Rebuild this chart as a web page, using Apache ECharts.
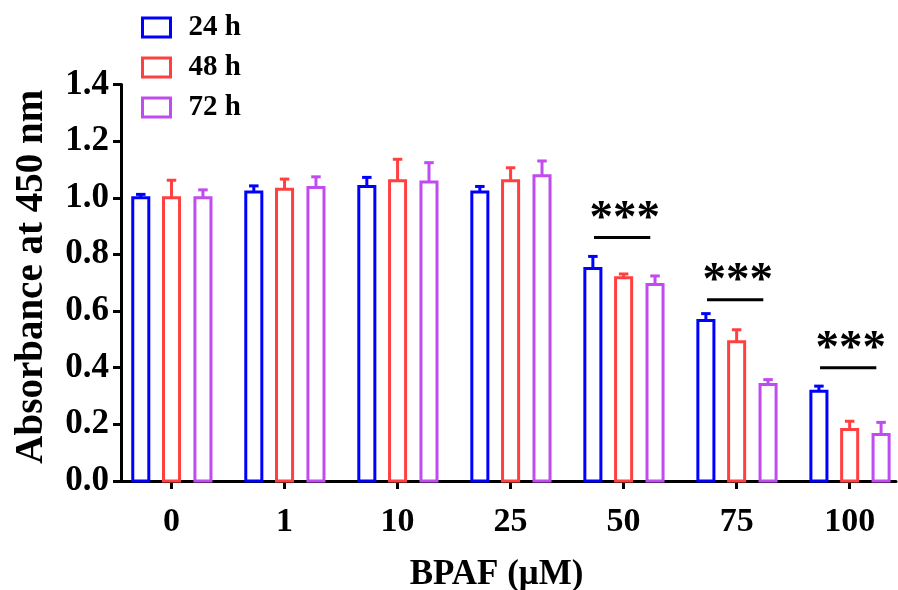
<!DOCTYPE html>
<html>
<head>
<meta charset="utf-8">
<script src="https://cdn.jsdelivr.net/npm/echarts@6/dist/echarts.min.js"></script>
<style>html,body{margin:0;padding:0;background:#fff;}#c{width:898px;height:590px;}</style>
</head>
<body>
<div id="c"></div>
<script>
// ---- data ----
const categories = ['0', '1', '10', '25', '50', '75', '100'];
const seriesNames = ['24 h', '48 h', '72 h'];
const mean24 = [1.00, 1.02, 1.04, 1.02, 0.750, 0.567, 0.317];
const sd24   = [0.012, 0.022, 0.032, 0.020, 0.043, 0.024, 0.018];
const mean48 = [1.00, 1.03, 1.06, 1.06, 0.718, 0.492, 0.182];
const sd48   = [0.062, 0.036, 0.076, 0.046, 0.013, 0.042, 0.029];
const mean72 = [1.00, 1.036, 1.056, 1.078, 0.694, 0.341, 0.164];
const sd72   = [0.028, 0.038, 0.068, 0.052, 0.030, 0.017, 0.043];
const sigCategories = ['50', '75', '100'];
const sigLineY = [0.86, 0.64, 0.40];
const sigLabel = '***';

// ---- styles ----
const colors = ['#0000ff', '#ff4040', '#c04cf0'];
const offsets = [-0.272, 0, 0.278];
const halfW = 0.071;
const capHalf = 0.042;
const FONT = '"Liberation Serif", "Times New Roman", serif';

function barRender(offset, color) {
  return function (params, api) {
    const xi = api.value(0), m = api.value(1), sd = api.value(2);
    const tl = api.coord([xi + offset - halfW, m]);
    const br = api.coord([xi + offset + halfW, 0]);
    const top = api.coord([xi + offset, m + sd]);
    const cl = api.coord([xi + offset - capHalf, m + sd]);
    const cr = api.coord([xi + offset + capHalf, m + sd]);
    return {
      type: 'group',
      children: [
        { type: 'line', shape: { x1: top[0], y1: tl[1], x2: top[0], y2: top[1] },
          style: { stroke: color, lineWidth: 3 } },
        { type: 'line', shape: { x1: cl[0], y1: cl[1], x2: cr[0], y2: cr[1] },
          style: { stroke: color, lineWidth: 3 } },
        { type: 'rect', shape: { x: tl[0], y: tl[1], width: br[0] - tl[0], height: br[1] - tl[1] },
          style: { fill: '#fff', stroke: color, lineWidth: 3 } }
      ]
    };
  };
}

const means = [mean24, mean48, mean72];
const sds = [sd24, sd48, sd72];
const series = seriesNames.map((name, s) => ({
  name: name,
  type: 'custom',
  color: colors[s],
  renderItem: barRender(offsets[s], colors[s]),
  encode: { x: 0, y: 1 },
  data: categories.map((c, i) => [i, means[s][i], sds[s][i]]),
  z: 3
}));

series.push({
  name: 'sig',
  type: 'custom',
  z: 4,
  renderItem: function (params, api) {
    const xi = api.value(0), y = api.value(1);
    const a = api.coord([xi - 0.262, y]);
    const b = api.coord([xi + 0.236, y]);
    const c = api.coord([xi + 0.01, y]);
    return {
      type: 'group',
      children: [
        { type: 'line', shape: { x1: a[0], y1: a[1], x2: b[0], y2: b[1] },
          style: { stroke: '#000', lineWidth: 3 } },
        { type: 'text', x: c[0], y: c[1] + 6,
          style: { text: sigLabel, fill: '#000', font: 'bold 47px ' + FONT,
                   align: 'center', verticalAlign: 'bottom' } }
      ]
    };
  },
  data: sigCategories.map((c, i) => [categories.indexOf(c), sigLineY[i]])
});

const chart = echarts.init(document.getElementById('c'), null, { renderer: 'canvas' });
chart.setOption({
  animation: false,
  backgroundColor: '#fff',
  grid: { left: 121, right: 2, top: 84.5, bottom: 109, containLabel: false, outerBoundsMode: 'none' },
  legend: {
    orient: 'vertical',
    left: 141,
    top: 13,
    padding: 0,
    itemWidth: 28,
    itemHeight: 19,
    itemGap: 11,
    icon: 'rect',
    textStyle: { fontFamily: FONT, fontWeight: 'bold', fontSize: 29, color: '#000', padding: [0, 0, 0, 13] },
    data: seriesNames.map((n, s) => ({
      name: n,
      itemStyle: { color: '#fff', borderColor: colors[s], borderWidth: 3 }
    }))
  },
  xAxis: {
    type: 'value',
    min: -0.447,
    max: 6.41,
    splitLine: { show: false },
    axisLine: { show: true, onZero: false, lineStyle: { color: '#000', width: 3 } },
    axisTick: { show: true, length: 8, lineStyle: { color: '#000', width: 3 },
                customValues: categories.map((c, i) => i) },
    axisLabel: {
      customValues: categories.map((c, i) => i),
      formatter: v => categories[Math.round(v)],
      margin: 24,
      color: '#000', fontFamily: FONT, fontWeight: 'bold', fontSize: 34
    },
    name: 'BPAF (μM)',
    nameLocation: 'middle',
    nameGap: 76,
    nameTextStyle: { color: '#000', fontFamily: FONT, fontWeight: 'bold', fontSize: 35, padding: [0, 24, 0, 0] }
  },
  yAxis: {
    type: 'value',
    min: 0,
    max: 1.4,
    interval: 0.2,
    splitLine: { show: false },
    axisLine: { show: true, onZero: false, lineStyle: { color: '#000', width: 3 } },
    axisTick: { show: true, length: 8, lineStyle: { color: '#000', width: 3 } },
    axisLabel: {
      formatter: v => v.toFixed(1),
      margin: 12,
      color: '#000', fontFamily: FONT, fontWeight: 'bold', fontSize: 35
    },
    name: 'Absorbance at 450 nm',
    nameLocation: 'middle',
    nameGap: 70,
    nameTextStyle: { color: '#000', fontFamily: FONT, fontWeight: 'bold', fontSize: 39, padding: [0, 0, 0, 12] }
  },
  series: series
});
</script>
</body>
</html>
